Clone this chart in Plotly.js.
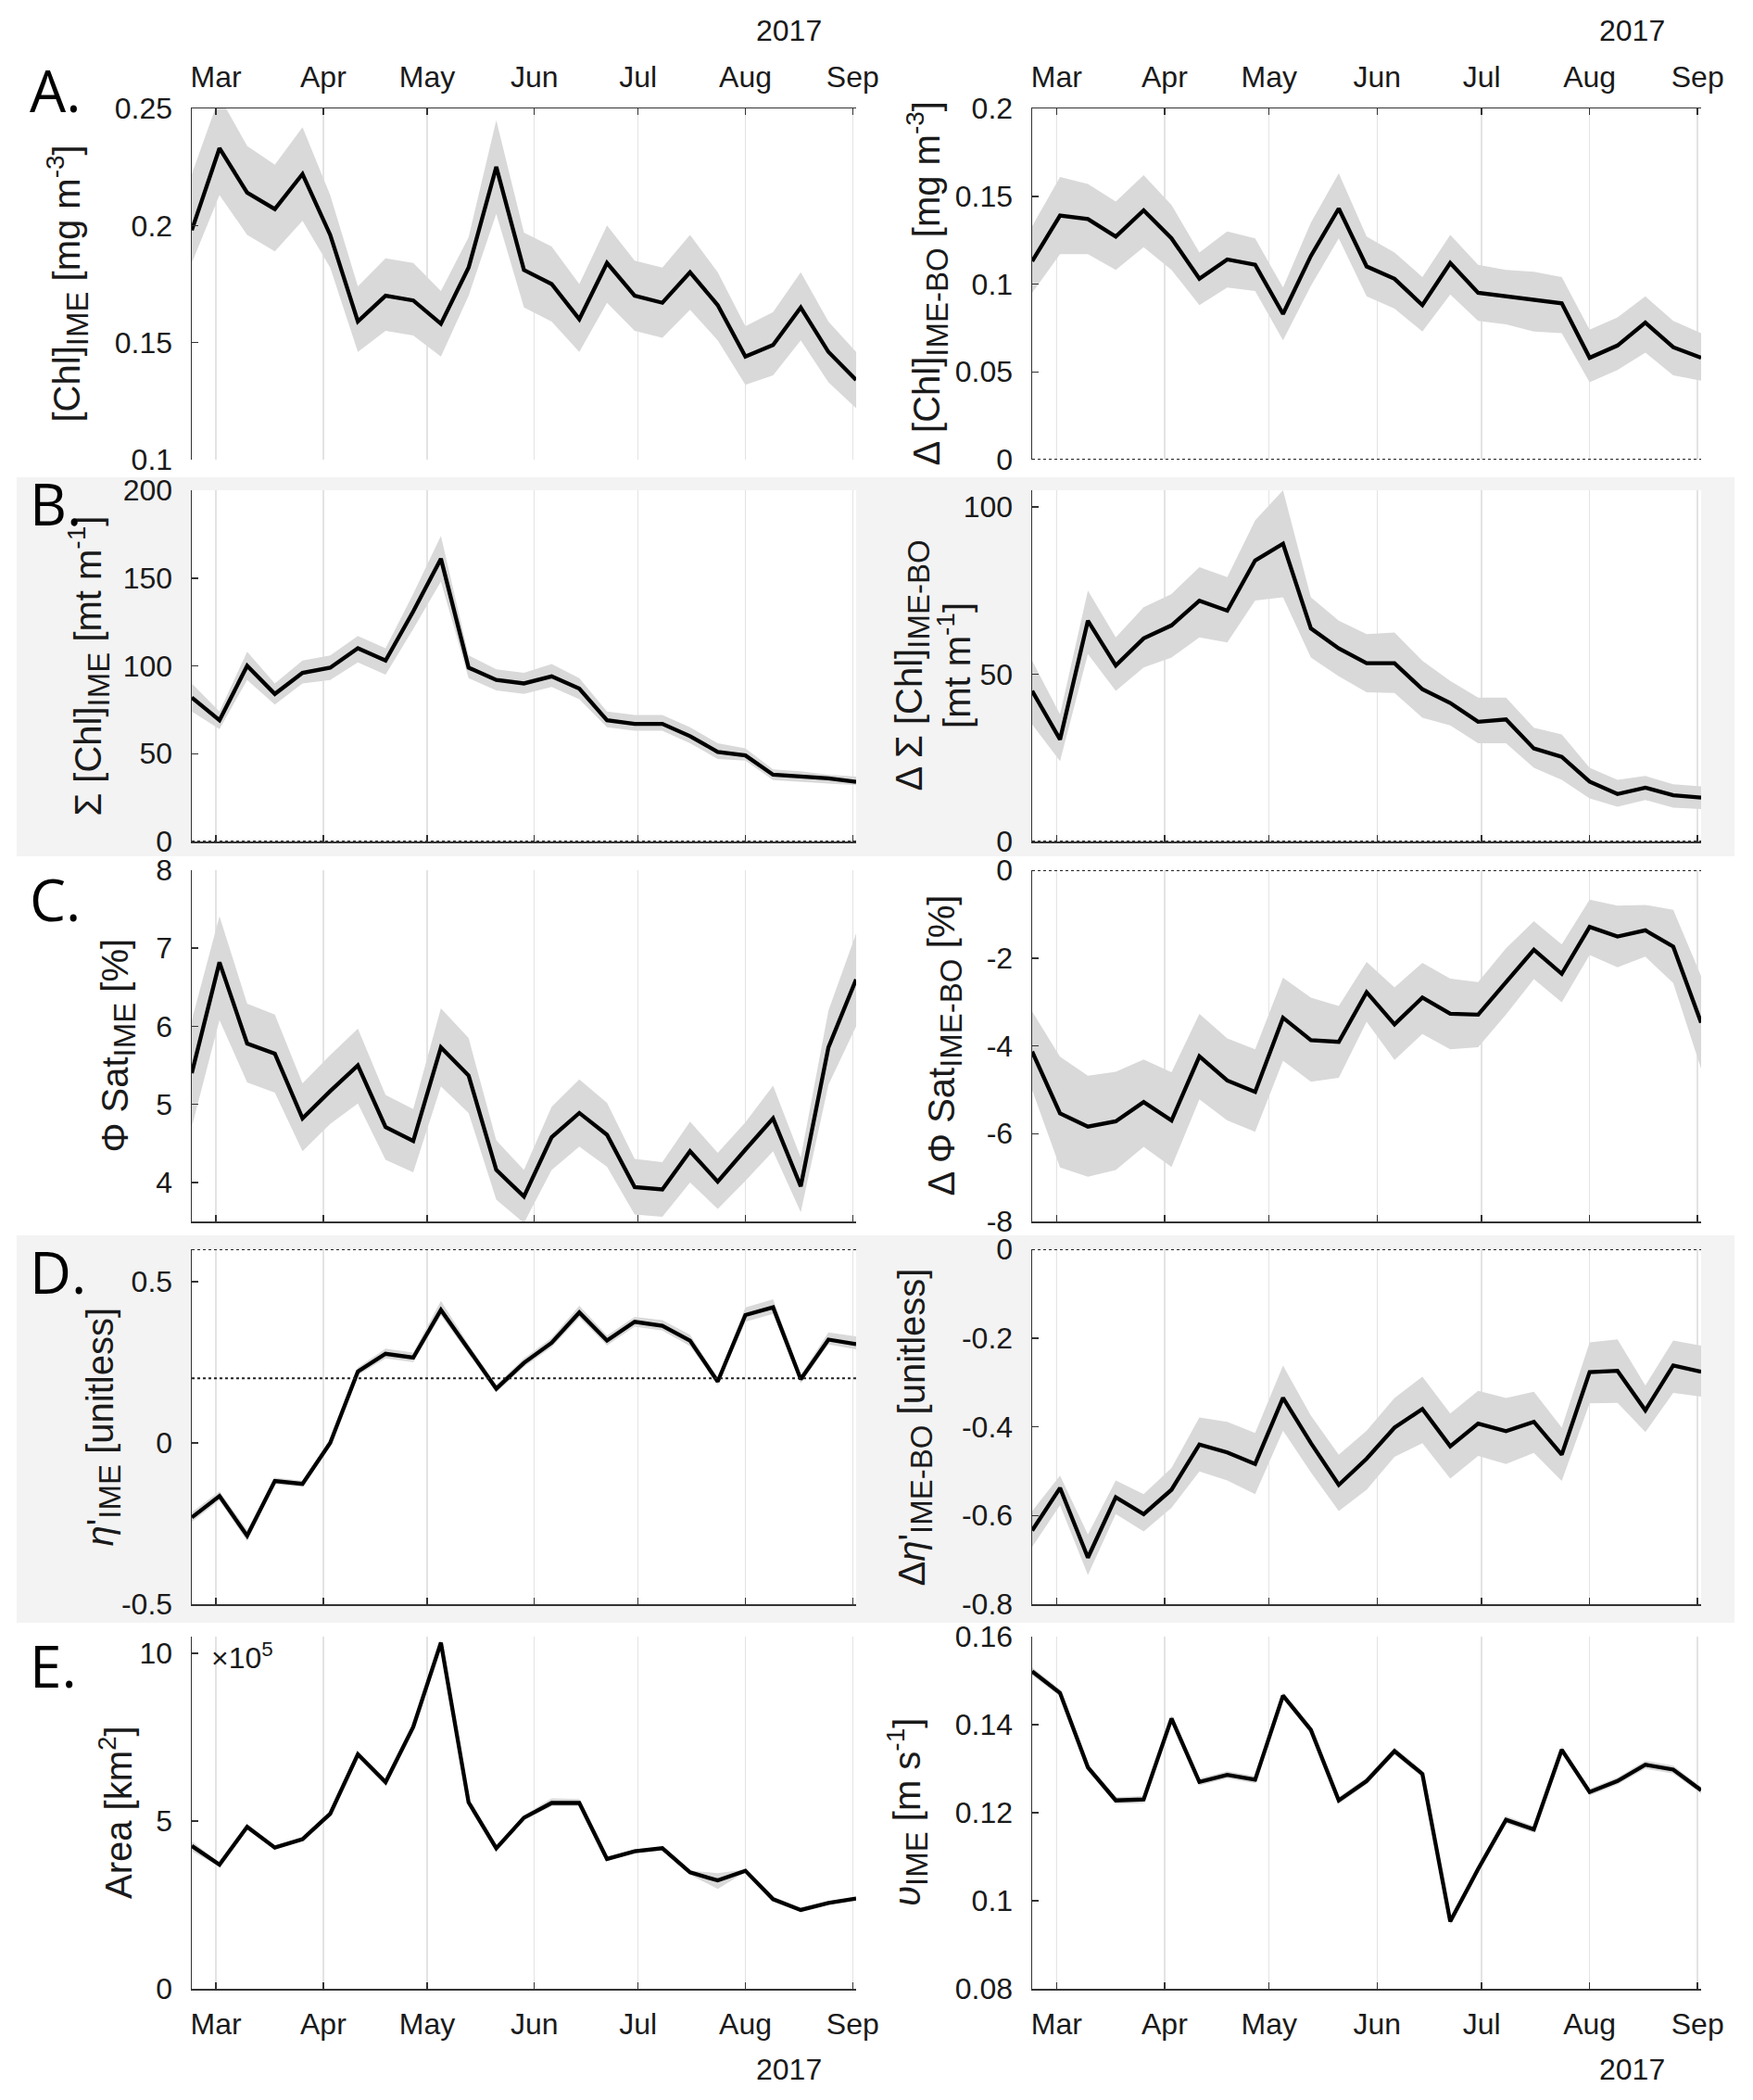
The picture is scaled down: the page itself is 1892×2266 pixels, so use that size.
<!DOCTYPE html>
<html>
<head>
<meta charset="utf-8">
<script src="https://cdn.plot.ly/plotly-3.0.1.min.js"></script>
<style>
  html, body { margin: 0; padding: 0; background: #fff; }
  #myDiv { width: 1892px; height: 2266px; }
</style>
</head>
<body>
<div id="myDiv"></div>
<script>
// 8-day composite dates, 2017
let dates = ['2017-02-22','2017-03-02','2017-03-10','2017-03-18','2017-03-26','2017-04-03','2017-04-11',
  '2017-04-19','2017-04-27','2017-05-05','2017-05-13','2017-05-21','2017-05-29','2017-06-06','2017-06-14',
  '2017-06-22','2017-06-30','2017-07-08','2017-07-16','2017-07-24','2017-08-01','2017-08-09','2017-08-17',
  '2017-08-25','2017-09-02'];
let monthTicks = ['2017-03-01','2017-04-01','2017-05-01','2017-06-01','2017-07-01','2017-08-01','2017-09-01'];
let monthNames = ['Mar','Apr','May','Jun','Jul','Aug','Sep'];

// A. [Chl]
let chlIme   = [0.198,0.233,0.214,0.207,0.222,0.196,0.159,0.170,0.168,0.158,0.182,0.225,0.181,0.175,0.160,0.184,0.170,0.167,0.180,0.166,0.144,0.149,0.165,0.146,0.134];
let chlImeHi = [0.222,0.255,0.234,0.226,0.242,0.213,0.174,0.186,0.184,0.172,0.195,0.245,0.197,0.191,0.175,0.200,0.185,0.182,0.196,0.180,0.157,0.163,0.180,0.159,0.146];
let chlImeLo = [0.184,0.213,0.196,0.189,0.202,0.182,0.146,0.155,0.153,0.144,0.170,0.205,0.165,0.159,0.146,0.167,0.155,0.152,0.164,0.151,0.132,0.136,0.151,0.133,0.122];
let dChl   = [0.113,0.139,0.137,0.127,0.142,0.126,0.103,0.114,0.111,0.083,0.116,0.143,0.110,0.103,0.088,0.112,0.095,0.093,0.091,0.089,0.058,0.065,0.078,0.064,0.058];
let dChlHi = [0.133,0.161,0.157,0.147,0.162,0.145,0.118,0.130,0.126,0.098,0.135,0.163,0.127,0.118,0.104,0.128,0.111,0.108,0.107,0.104,0.074,0.081,0.093,0.079,0.072];
let dChlLo = [0.095,0.117,0.117,0.108,0.121,0.108,0.088,0.098,0.096,0.068,0.099,0.126,0.093,0.086,0.073,0.094,0.079,0.077,0.073,0.072,0.044,0.051,0.061,0.048,0.045];

// B. integrated Chl
let sumChl   = [82,69,100,84,96,99,110,103,131,161,99,92,90,94,87,69,67,67,60,51,49,38,37,36,34];
let sumChlHi = [90,74,108,90,103,106,117,110,141,174,106,98,96,101,93,74,72,72,65,56,53,41,40,38,37];
let sumChlLo = [74,64,92,78,90,92,102,95,121,148,93,86,84,88,81,65,63,63,56,47,46,35,34,33,32];
let dSum   = [45,30.5,66,52.6,60.7,64.6,72,69,84,89,63.7,57.7,53.3,53.3,45.5,41.4,35.8,36.5,27.8,25.3,17.9,14.2,16.1,13.8,13.1];
let dSumHi = [54,38,75,61,70,74,82,79,96,105,73,66,62,62.5,54,48,43,43,34,32,22,18.4,19.6,17.1,16.5];
let dSumLo = [35,24,56,45,52,55,61,59.5,72,73,55,49.4,44.6,44.4,37,34.7,29.4,29.4,22,18.4,12.9,10.4,12.4,10.1,9.7];

// C. PhiSat
let phiSat   = [5.40,6.82,5.78,5.65,4.82,5.17,5.50,4.71,4.53,5.73,5.37,4.16,3.82,4.58,4.89,4.61,3.94,3.91,4.40,4.01,4.42,4.82,3.95,5.73,6.60];
let phiSatHi = [6.08,7.41,6.29,6.15,5.27,5.63,5.97,5.12,4.94,6.23,5.85,4.54,4.16,4.97,5.32,5.02,4.30,4.26,4.78,4.38,4.77,5.24,4.32,6.20,7.19];
let phiSatLo = [4.71,6.08,5.28,5.15,4.40,4.75,5.01,4.29,4.13,5.23,4.89,3.78,3.48,4.16,4.46,4.20,3.59,3.56,4.00,3.66,4.02,4.40,3.62,5.25,6.00];
let dPhi   = [-4.13,-5.54,-5.84,-5.72,-5.28,-5.70,-4.24,-4.79,-5.05,-3.36,-3.87,-3.91,-2.78,-3.51,-2.90,-3.27,-3.29,-2.54,-1.81,-2.36,-1.29,-1.51,-1.37,-1.74,-3.47];
let dPhiHi = [-3.22,-4.25,-4.68,-4.59,-4.31,-4.60,-3.27,-3.83,-4.08,-2.45,-2.90,-3.09,-2.09,-2.67,-2.11,-2.47,-2.55,-1.78,-1.16,-1.69,-0.67,-0.81,-0.79,-0.90,-2.41];
let dPhiLo = [-5.01,-6.77,-6.98,-6.83,-6.30,-6.76,-5.22,-5.70,-5.96,-4.34,-4.82,-4.73,-3.45,-4.32,-3.73,-4.08,-4.03,-3.29,-2.48,-3.01,-1.93,-2.21,-1.97,-2.57,-4.52];

// D. eta'
let eta   = [-0.231,-0.165,-0.288,-0.118,-0.127,0.000,0.221,0.276,0.264,0.412,0.290,0.168,0.248,0.310,0.404,0.317,0.375,0.363,0.317,0.190,0.396,0.420,0.197,0.320,0.306];
let etaHi = [-0.215,-0.150,-0.270,-0.108,-0.117,0.010,0.233,0.292,0.280,0.440,0.305,0.180,0.262,0.325,0.425,0.333,0.390,0.380,0.335,0.200,0.420,0.445,0.210,0.342,0.330];
let etaLo = [-0.245,-0.178,-0.305,-0.128,-0.137,-0.010,0.210,0.262,0.250,0.395,0.276,0.156,0.235,0.296,0.388,0.302,0.360,0.348,0.300,0.180,0.375,0.400,0.185,0.305,0.290];
let dEta   = [-0.634,-0.538,-0.695,-0.559,-0.597,-0.542,-0.440,-0.458,-0.484,-0.335,-0.437,-0.531,-0.472,-0.402,-0.360,-0.444,-0.393,-0.410,-0.389,-0.463,-0.277,-0.274,-0.363,-0.262,-0.276];
let dEtaHi = [-0.590,-0.510,-0.643,-0.521,-0.552,-0.493,-0.379,-0.389,-0.414,-0.262,-0.375,-0.463,-0.409,-0.335,-0.287,-0.370,-0.319,-0.335,-0.321,-0.402,-0.210,-0.203,-0.307,-0.206,-0.217];
let dEtaLo = [-0.671,-0.577,-0.734,-0.597,-0.636,-0.583,-0.501,-0.521,-0.552,-0.409,-0.503,-0.590,-0.542,-0.468,-0.437,-0.517,-0.466,-0.484,-0.459,-0.522,-0.347,-0.346,-0.412,-0.324,-0.332];

// E. area (x1e5 km2) and velocity
let area   = [4.26,3.70,4.83,4.21,4.46,5.22,6.99,6.16,7.81,10.32,5.56,4.19,5.10,5.54,5.54,3.87,4.10,4.19,3.47,3.23,3.52,2.67,2.35,2.56,2.69];
let areaHi = [4.40,3.76,4.92,4.27,4.52,5.28,7.05,6.22,7.87,10.40,5.62,4.25,5.17,5.68,5.66,3.93,4.16,4.25,3.52,3.45,3.56,2.72,2.40,2.61,2.74];
let areaLo = [4.10,3.64,4.74,4.15,4.40,5.16,6.93,6.10,7.75,10.24,5.50,4.13,5.03,5.44,5.44,3.81,4.04,4.13,3.40,2.98,3.48,2.62,2.30,2.51,2.64];
let vel   = [0.1521,0.1472,0.1303,0.1228,0.1230,0.1414,0.1270,0.1286,0.1275,0.1466,0.1388,0.1228,0.1272,0.1340,0.1288,0.0953,0.1072,0.1184,0.1162,0.1343,0.1247,0.1272,0.1309,0.1298,0.1251];
let velHi = [0.1530,0.1480,0.1311,0.1236,0.1238,0.1421,0.1278,0.1294,0.1283,0.1473,0.1396,0.1236,0.1280,0.1348,0.1296,0.0960,0.1080,0.1192,0.1170,0.1351,0.1255,0.1280,0.1318,0.1307,0.1259];
let velLo = [0.1512,0.1464,0.1295,0.1220,0.1222,0.1407,0.1262,0.1278,0.1267,0.1459,0.1380,0.1220,0.1264,0.1332,0.1280,0.0946,0.1064,0.1176,0.1154,0.1335,0.1239,0.1264,0.1300,0.1289,0.1243];

const W = 1892, H = 2266;
const px = v => v / W;
const py = v => 1 - v / H;

// plot boxes in pixels
const colX = [[207, 924], [1114, 1836]];
const rowY = [[117, 496], [529, 908], [939, 1318], [1348, 1731], [1766, 2146]];

const tickFont = {family: 'Liberation Sans, Arial, Helvetica, sans-serif', size: 32, color: '#1a1a1a'};
const titleFont = {family: 'Liberation Sans, Arial, Helvetica, sans-serif', size: 40, color: '#1a1a1a'};
const axColor = '#333333';

// subscripts a bit larger than plotly's default 70%
const sb = s => '<sub><span style="font-size:33px">' + s + '</span></sub>';

let panels = [
  {y: chlIme, hi: chlImeHi, lo: chlImeLo, range: [0.1, 0.25], tv: [0.1,0.15,0.2,0.25], tt: ['0.1','0.15','0.2','0.25'],
   title: '[Chl]' + sb('IME') + ' [mg m<sup>-3</sup>]', tx: 73, dots: []},
  {y: dChl, hi: dChlHi, lo: dChlLo, range: [0, 0.2], tv: [0,0.05,0.1,0.15,0.2], tt: ['0','0.05','0.1','0.15','0.2'],
   title: '\u0394 [Chl]' + sb('IME-BO') + ' [mg m<sup>-3</sup>]', tx: 1001, dots: [0]},
  {y: sumChl, hi: sumChlHi, lo: sumChlLo, range: [0, 200], tv: [0,50,100,150,200], tt: ['0','50','100','150','200'],
   title: '\u03a3 [Chl]' + sb('IME') + ' [mt m<sup>-1</sup>]', tx: 96, dots: [0]},
  {y: dSum, hi: dSumHi, lo: dSumLo, range: [0, 105], tv: [0,50,100], tt: ['0','50','100'],
   title: '\u0394 \u03a3 [Chl]' + sb('IME-BO') + '<br>[mt m<sup>-1</sup>]', tx: 1006, dots: [0]},
  {y: phiSat, hi: phiSatHi, lo: phiSatLo, range: [3.5, 8], tv: [4,5,6,7,8], tt: ['4','5','6','7','8'],
   title: '\u03a6 Sat' + sb('IME') + ' [%]', tx: 127, dots: []},
  {y: dPhi, hi: dPhiHi, lo: dPhiLo, range: [-8, 0], tv: [-8,-6,-4,-2,0], tt: ['-8','-6','-4','-2','0'],
   title: '\u0394 \u03a6 Sat' + sb('IME-BO') + ' [%]', tx: 1019, dots: [0]},
  {y: eta, hi: etaHi, lo: etaLo, range: [-0.5, 0.6], tv: [-0.5,0,0.5], tt: ['-0.5','0','0.5'],
   title: '<i>\u03b7</i>\'' + sb('IME') + ' [unitless]', tx: 111, dots: [0.6, 0.2]},
  {y: dEta, hi: dEtaHi, lo: dEtaLo, range: [-0.8, 0], tv: [-0.8,-0.6,-0.4,-0.2,0], tt: ['-0.8','-0.6','-0.4','-0.2','0'],
   title: '\u0394<i>\u03b7</i>\'' + sb('IME-BO') + ' [unitless]', tx: 987, dots: [0]},
  {y: area, hi: areaHi, lo: areaLo, range: [0, 10.5], tv: [0,5,10], tt: ['0','5','10'],
   title: 'Area [km<sup>2</sup>]', tx: 125, dots: []},
  {y: vel, hi: velHi, lo: velLo, range: [0.08, 0.16], tv: [0.08,0.1,0.12,0.14,0.16], tt: ['0.08','0.1','0.12','0.14','0.16'],
   title: '<i>\u03c5</i>' + sb('IME') + ' [m s<sup>-1</sup>]', tx: 979, dots: []}
];

let traces = [];
let shapes = [];
let annotations = [];
let layout = {
  width: W, height: H,
  margin: {l: 0, r: 0, t: 0, b: 0},
  paper_bgcolor: '#ffffff',
  plot_bgcolor: '#ffffff',
  showlegend: false
};

// grey row backgrounds for B and D
[[515, 924], [1333, 1751]].forEach(b => {
  shapes.push({type: 'rect', xref: 'paper', yref: 'paper', x0: px(18), x1: px(1872), y0: py(b[1]), y1: py(b[0]),
    fillcolor: '#f3f3f3', line: {width: 0}, layer: 'below'});
});
[1, 3].forEach(r => {
  colX.forEach(c => {
    shapes.push({type: 'rect', xref: 'paper', yref: 'paper', x0: px(c[0]), x1: px(c[1]), y0: py(rowY[r][1]), y1: py(rowY[r][0]),
      fillcolor: '#ffffff', line: {width: 0}, layer: 'below'});
  });
});

panels.forEach((p, i) => {
  let row = Math.floor(i / 2), col = i % 2;
  let n = i + 1;
  let xa = n === 1 ? 'x' : 'x' + n;
  let ya = n === 1 ? 'y' : 'y' + n;

  traces.push({
    x: dates.concat(dates.slice().reverse()),
    y: p.hi.concat(p.lo.slice().reverse()),
    xaxis: xa, yaxis: ya, type: 'scatter', mode: 'lines',
    fill: 'toself', fillcolor: '#d9d9d9', line: {width: 0, color: '#d9d9d9'}, hoverinfo: 'skip'
  });
  traces.push({
    x: dates, y: p.y, xaxis: xa, yaxis: ya, type: 'scatter', mode: 'lines',
    line: {color: '#000000', width: 4.3}
  });

  let labelled = row === 0 || row === 4;
  layout['xaxis' + (n === 1 ? '' : n)] = {
    domain: [px(colX[col][0]), px(colX[col][1])],
    anchor: ya, type: 'date',
    range: [dates[0], dates[dates.length - 1]],
    tickmode: 'array', tickvals: monthTicks, ticktext: monthNames,
    side: row === 0 ? 'top' : 'bottom',
    showticklabels: labelled,
    ticks: 'inside', ticklen: 7, tickwidth: 1.5, tickcolor: axColor,
    showline: true, linecolor: axColor, linewidth: 1.5, mirror: false,
    showgrid: true, gridcolor: '#e3e3e3', gridwidth: 1.5,
    zeroline: false, tickfont: tickFont,
    ticklabelstandoff: 9,
    fixedrange: true
  };
  layout['yaxis' + (n === 1 ? '' : n)] = {
    domain: [py(rowY[row][1]), py(rowY[row][0])],
    anchor: xa, range: p.range,
    tickmode: 'array', tickvals: p.tv, ticktext: p.tt,
    ticks: 'inside', ticklen: 7, tickwidth: 1.5, tickcolor: axColor,
    showline: true, linecolor: axColor, linewidth: 1.5,
    showgrid: false, zeroline: false, tickfont: tickFont,
    ticklabelstandoff: 13, fixedrange: true
  };

  p.dots.forEach(v => {
    shapes.push({type: 'line', xref: xa + ' domain', yref: ya, x0: 0, x1: 1, y0: v, y1: v,
      line: {color: '#222222', width: 2, dash: 'dot'}});
  });

  annotations.push({
    text: p.title, textangle: -90, showarrow: false,
    xref: 'paper', yref: 'paper', x: px(p.tx), y: py((rowY[row][0] + rowY[row][1]) / 2),
    xanchor: 'center', yanchor: 'middle', font: titleFont
  });
});

// panel letters
[['A.', 97], ['B.', 543], ['C.', 970], ['D.', 1372], ['E.', 1797]].forEach(l => {
  annotations.push({text: l[0], showarrow: false, xref: 'paper', yref: 'paper', x: px(30), y: py(l[1]),
    xanchor: 'left', yanchor: 'middle',
    font: {family: 'Open Sans, Noto Sans, sans-serif', size: 62, color: '#000000'}});
});

// year labels
[[889, 33], [1799, 33], [889, 2233], [1799, 2233]].forEach(a => {
  annotations.push({text: '2017', showarrow: false, xref: 'paper', yref: 'paper', x: px(a[0]), y: py(a[1]),
    xanchor: 'right', yanchor: 'middle', font: tickFont});
});

// exponent label for area
annotations.push({text: '\u00d710<sup>5</sup>', showarrow: false, xref: 'paper', yref: 'paper',
  x: px(226), y: py(1787), xanchor: 'left', yanchor: 'middle', font: tickFont});

layout.shapes = shapes;
layout.annotations = annotations;

Plotly.newPlot('myDiv', traces, layout, {displayModeBar: false, staticPlot: true});
</script>
</body>
</html>
